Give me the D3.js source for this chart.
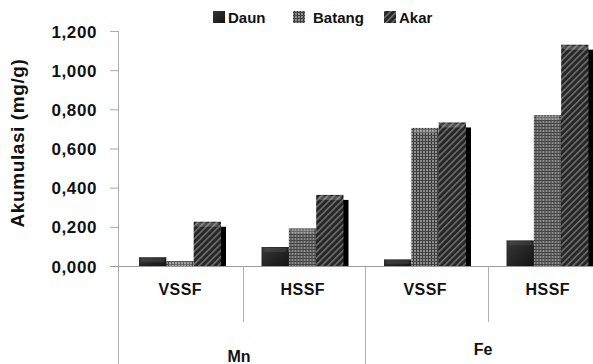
<!DOCTYPE html>
<html><head><meta charset="utf-8">
<script src="https://cdn.jsdelivr.net/npm/d3@7"></script>
<style>body{margin:0;background:#fff}svg{display:block}text{font-family:"Liberation Sans",Arial,sans-serif;font-weight:bold;fill:#111}</style>
</head><body>
<script>
const metals = ["Mn", "Fe"];
const systems = ["VSSF", "HSSF"];
const categories = ["Mn|VSSF", "Mn|HSSF", "Fe|VSSF", "Fe|HSSF"];
const seriesNames = ["Daun", "Batang", "Akar"];
const daun = [0.045, 0.097, 0.034, 0.131];
const batang = [0.025, 0.192, 0.705, 0.771];
const akar = [0.226, 0.363, 0.733, 1.130];
const yTicks = [0, 0.2, 0.4, 0.6, 0.8, 1.0, 1.2];
const yTickLabels = ["0,000", "0,200", "0,400", "0,600", "0,800", "1,000", "1,200"];
const yTitle = "Akumulasi (mg/g)";

const W = 593, H = 364;
const svg = d3.select("body").append("svg").attr("width", W).attr("height", H);
const defs = svg.append("defs");

// patterns
const pDaun = defs.append("linearGradient").attr("id", "gDaun").attr("x1", 0).attr("y1", 0).attr("x2", 1).attr("y2", 1);
pDaun.append("stop").attr("offset", 0).attr("stop-color", "#383838");
pDaun.append("stop").attr("offset", 1).attr("stop-color", "#131313");

const pB = defs.append("pattern").attr("id", "pBatang").attr("patternUnits", "userSpaceOnUse").attr("width", 3).attr("height", 3);
pB.append("rect").attr("width", 3).attr("height", 3).attr("fill", "#8e8e8e");
pB.append("rect").attr("width", 1).attr("height", 3).attr("fill", "#3a3a3a");
pB.append("rect").attr("width", 3).attr("height", 1).attr("fill", "#454545");

const pA = defs.append("pattern").attr("id", "pAkar").attr("patternUnits", "userSpaceOnUse").attr("width", 4.5).attr("height", 4.5).attr("patternTransform", "rotate(45)");
pA.append("rect").attr("width", 4.5).attr("height", 4.5).attr("fill", "#262626");
pA.append("rect").attr("width", 1.6).attr("height", 4.5).attr("fill", "#6e6e6e");

const fills = ["url(#gDaun)", "url(#pBatang)", "url(#pAkar)"];

const y = d3.scaleLinear().domain([0, 1.2]).range([266, 31]);
const x0 = d3.scaleBand().domain(categories).range([120, 610]).paddingInner(0).paddingOuter(0);
const x1 = d3.scaleBand().domain(seriesNames).range([19, 101]).padding(0);

const data = categories.map((c, i) => ({c, vals: [daun[i], batang[i], akar[i]]}));

// y axis
const yAxis = d3.axisLeft(y).tickValues(yTicks).tickFormat((d, i) => yTickLabels[i]).tickSize(8).tickPadding(13);
const gy = svg.append("g").attr("transform", "translate(118,0)").call(yAxis);
gy.select(".domain").remove();
gy.selectAll(".tick line").attr("stroke", "#aaa");
gy.selectAll(".tick text").style("font-size", "17px").style("letter-spacing", "0.6px").attr("dy", "0.36em").attr("fill", "#111");
svg.append("line").attr("x1", 118.5).attr("x2", 118.5).attr("y1", 31).attr("y2", H).attr("stroke", "#aaa");

// baseline
svg.append("line").attr("x1", 110).attr("x2", W).attr("y1", 266.5).attr("y2", 266.5).attr("stroke", "#999");

// separators
categories.forEach((c, i) => {
  if (i === 0) return;
  const xx = Math.round(x0(c)) + 0.5;
  const full = c.endsWith("VSSF");
  svg.append("line").attr("x1", xx).attr("x2", xx).attr("y1", 266).attr("y2", full ? H : 322).attr("stroke", "#b0b0b0");
});

// bars
const groups = svg.selectAll("g.grp").data(data).join("g").attr("class", "grp")
  .attr("transform", d => `translate(${x0(d.c)},0)`);
groups.each(function(d) {
  const g = d3.select(this);
  d.vals.forEach((v, j) => {
    const bx = x1(seriesNames[j]), bw = x1.bandwidth();
    const top = y(v);
    const h = 266 - top;
    if (h > 5) {
      g.append("rect").attr("x", bx + 5).attr("y", top + 5).attr("width", bw).attr("height", h - 5).attr("fill", "#000");
    }
    g.append("rect").attr("x", bx).attr("y", top).attr("width", bw).attr("height", h).attr("fill", fills[j]);
    g.append("rect").attr("x", bx + 2).attr("y", top + 1).attr("width", bw - 4).attr("height", Math.min(4, h - 1)).attr("rx", 2)
      .attr("fill", "#fff").attr("opacity", j === 0 ? 0.08 : 0.2);
  });
});

// category labels
categories.forEach(c => {
  svg.append("text").attr("x", x0(c) + x0.bandwidth() / 2 - 1).attr("y", 295)
    .attr("text-anchor", "middle").style("font-size", "16px").style("letter-spacing", "0.4px").text(c.split("|")[1]);
});
const metalPos = [{m: "Mn", x: 239, y: 361.5}, {m: "Fe", x: 483, y: 355}];
metalPos.forEach(p => {
  svg.append("text").attr("x", p.x).attr("y", p.y).attr("text-anchor", "middle").style("font-size", "16px").text(p.m);
});

// y title
svg.append("text").attr("transform", "translate(24,143) rotate(-90)").attr("text-anchor", "middle")
  .style("font-size", "19px").style("letter-spacing", "0.6px").text(yTitle);

// legend
const legendX = [213, 293, 384];
seriesNames.forEach((s, i) => {
  svg.append("rect").attr("x", legendX[i]).attr("y", 11).attr("width", 12).attr("height", 12).attr("fill", fills[i]);
  svg.append("text").attr("x", legendX[i] + (i === 1 ? 20 : 15)).attr("y", 23).style("font-size", "15px").text(s);
});
</script>
</body></html>
